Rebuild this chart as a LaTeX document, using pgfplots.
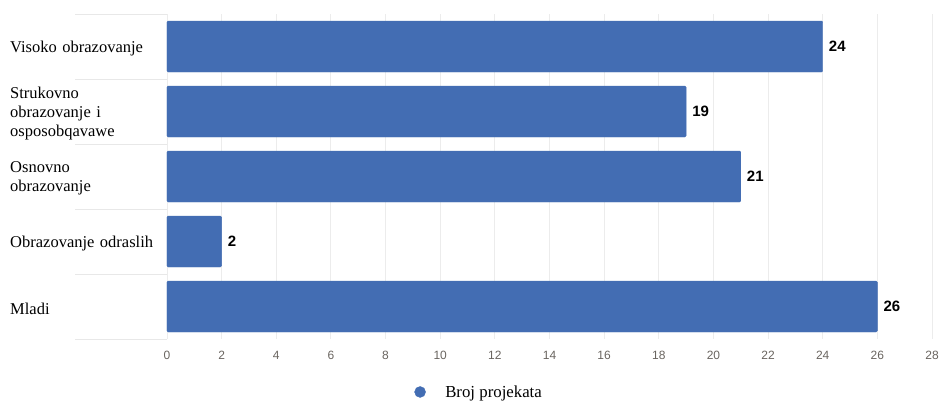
\documentclass[border=0pt]{standalone}
\usepackage{fontspec}
\setmainfont{Liberation Serif}
\newfontfamily\arialf{Liberation Sans}
\usepackage{pgfplots}
\usepackage{pgfplotstable}
\pgfplotsset{compat=1.18}

\definecolor{barblue}{RGB}{67,109,179}
\definecolor{gridgray}{RGB}{236,236,236}
\definecolor{sepgray}{RGB}{232,232,232}
\definecolor{axisgray}{RGB}{90,90,90}
\definecolor{tickgray}{RGB}{105,100,95}

\pgfplotstableread{
idx val
0 24
1 19
2 21
3 2
4 26
}\datatable

\begin{document}
\begin{tikzpicture}
\path[use as bounding box] (0pt,0pt) rectangle (939pt,401pt);
\begin{axis}[
  at={(167pt,62pt)}, anchor=south west,
  scale only axis, width=765pt, height=325pt,
  xbar, bar width=51pt,
  xmin=0, xmax=28, ymin=-0.5, ymax=4.5,
  y dir=reverse,
  axis line style={draw=none},
  major tick length=0pt,
  xtick pos=bottom, ytick pos=left,
  xtick={0,2,...,28},
  ytick={0,1,2,3,4},
  yticklabels={{Visoko obrazovanje},{Strukovno\\obrazovanje i\\osposobqavawe},{Osnovno\\obrazovanje},{Obrazovanje odraslih},{Mladi}},
  yticklabel style={font=\fontsize{16.5}{19}\selectfont, align=left, anchor=west, text width=150pt, inner sep=0pt, xshift=-157pt, yshift=-2pt},
  xticklabel style={font=\arialf\fontsize{12}{12}\selectfont, text=tickgray, yshift=-9pt},
  /pgf/number format/assume math mode=true,
  xmajorgrids,
  major grid style={color=gridgray, line width=0.9pt},
  extra x ticks={0},
  extra x tick labels={},
  extra x tick style={grid style={color=axisgray, line width=1.1pt}},
  extra y ticks={-0.5,0.5,1.5,2.5,3.5,4.5},
  extra y tick labels={},
  extra y tick style={major tick length=92pt, tick align=outside, major tick style={draw=sepgray, line width=0.9pt}},
  legend style={at={(axis description cs:0.408,-0.163)}, anchor=center, draw=none, fill=none,
    font=\fontsize{16.8}{18}\selectfont},
  clip=false,
]
\addplot[fill=barblue, draw=barblue, rounded corners=1.2pt, point meta=x,
  nodes near coords,
  nodes near coords style={font=\arialf\bfseries\fontsize{15}{15}\selectfont, anchor=west, inner sep=0pt, xshift=6pt, text=black},
  legend image code/.code={\fill[barblue] (0pt,0pt) circle (5.5pt); \path (23pt,0pt);}
] table[x=val, y=idx] {\datatable};
\addlegendentry{Broj projekata}
\end{axis}
\end{tikzpicture}
\end{document}
